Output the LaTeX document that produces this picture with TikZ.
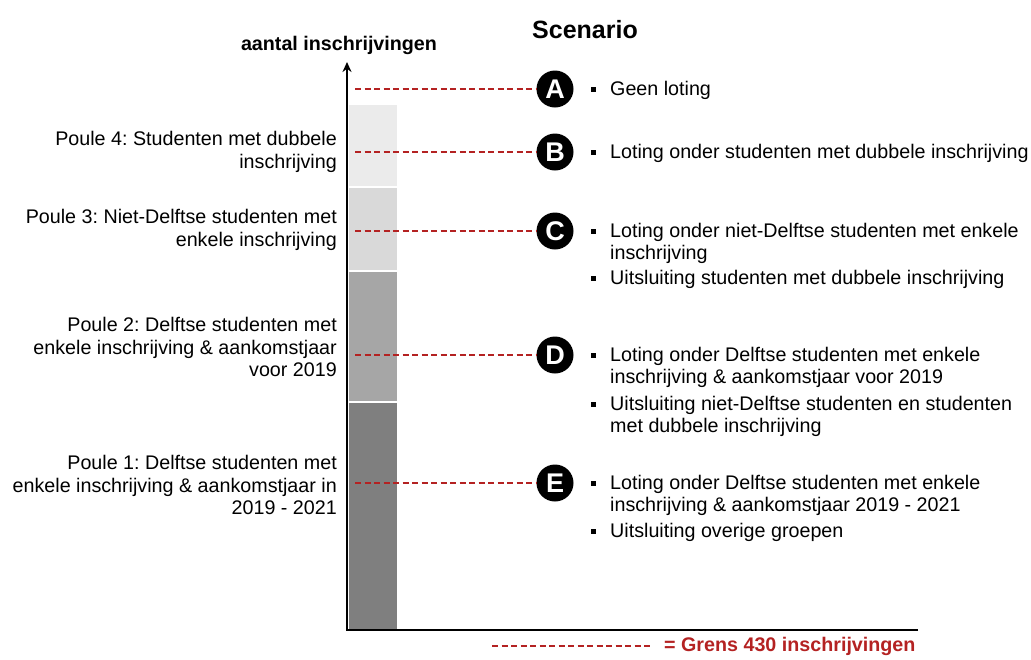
\documentclass[tikz,border=0pt]{standalone}
\usepackage{fontspec}
\setmainfont{Liberation Sans}
\usetikzlibrary{positioning, arrows.meta, calc}
\definecolor{grensrood}{HTML}{B42222}
\definecolor{poulevier}{HTML}{EBEBEB}
\definecolor{pouledrie}{HTML}{D9D9D9}
\definecolor{pouletwee}{HTML}{A6A6A6}
\definecolor{pouleeen}{HTML}{7F7F7F}
\frenchspacing

\begin{document}
\begin{tikzpicture}[x=1pt,y=-1pt,
        every node/.style={font=\fontsize{19.7}{22.5}\selectfont, inner sep=0pt},
        kop/.style={font=\fontsize{19.7}{22.5}\selectfont\bfseries},
        letter/.style={circle, fill=black, minimum size=37pt, text=white,
            font=\fontsize{27}{27}\selectfont\bfseries},
        grens/.style={draw=grensrood, line width=1.2pt, dash pattern=on 6pt off 3.5pt},
        blok/.style={rectangle, fill=black, minimum size=5pt},
        poule/.style={anchor=east, align=right},
        item/.style={anchor=north west, align=left,
            font=\fontsize{19.7}{22}\selectfont}]
        \useasboundingbox (0,0) rectangle (1031,659);

        \fill[poulevier] (349,105) rectangle (397,186);
        \fill[pouledrie] (349,188) rectangle (397,270);
        \fill[pouletwee] (349,272) rectangle (397,401);
        \fill[pouleeen] (349,403) rectangle (397,630);

        \coordinate (oorsprong) at (347,630);
        \coordinate (xeind) at (918,630);
        \coordinate (ytop) at (347,62);
        \draw[line width=2.2pt, -{Stealth[length=10pt,width=9pt]}]
            (xeind) -- (oorsprong) -- (ytop);

        \node[kop] (yas) at (339,45) {aantal inschrijvingen};
        \node[font=\fontsize{25}{25}\selectfont\bfseries] (scenario) at (585,30) {Scenario};

        \node[poule] (p4) at (337,152) {Poule 4: Studenten met dubbele\\inschrijving};
        \node[poule] (p3) at (337,230) {Poule 3: Niet-Delftse studenten met\\enkele inschrijving};
        \node[poule] (p2) at (337,347) {Poule 2: Delftse studenten met\\enkele inschrijving \& aankomstjaar\\voor 2019};
        \node[poule] (p1) at (337,485) {Poule 1: Delftse studenten met\\enkele inschrijving \& aankomstjaar in\\2019 - 2021};

        \coordinate (gA) at (355,89);
        \coordinate (gB) at (355,152);
        \coordinate (gC) at (355,231);
        \coordinate (gD) at (355,355);
        \coordinate (gE) at (355,483);
        \node[letter] (A) at (555,89) {A};
        \node[letter] (B) at (555,152) {B};
        \node[letter] (C) at (555,231) {C};
        \node[letter] (D) at (555,355) {D};
        \node[letter] (E) at (555,483) {E};
        \draw[grens] (gA) -- (A);
        \draw[grens] (gB) -- (B);
        \draw[grens] (gC) -- (C);
        \draw[grens] (gD) -- (D);
        \draw[grens] (gE) -- (E);

        \node[blok] (bA) at (593,89) {};
        \node[blok] (bB) at (593,152) {};
        \node[blok] (bC1) at (593,231) {};
        \node[blok] (bC2) at (593,278) {};
        \node[blok] (bD1) at (593,355) {};
        \node[blok] (bD2) at (593,404) {};
        \node[blok] (bE1) at (593,483) {};
        \node[blok] (bE2) at (593,531) {};

        \node[item] (tA) at (610,81.5) {Geen loting};
        \node[item] (tB) at (610,144.5) {Loting onder studenten met dubbele inschrijving};
        \node[item] (tC1) at (610,223.5) {Loting onder niet-Delftse studenten met enkele\\inschrijving};
        \node[item] (tC2) at (610,270.5) {Uitsluiting studenten met dubbele inschrijving};
        \node[item] (tD1) at (610,347.5) {Loting onder Delftse studenten met enkele\\inschrijving \& aankomstjaar voor 2019};
        \node[item] (tD2) at (610,396.5) {Uitsluiting niet-Delftse studenten en studenten\\met dubbele inschrijving};
        \node[item] (tE1) at (610,475.5) {Loting onder Delftse studenten met enkele\\inschrijving \& aankomstjaar 2019 - 2021};
        \node[item] (tE2) at (610,523.5) {Uitsluiting overige groepen};

        \coordinate (lg1) at (492,646);
        \coordinate (lg2) at (650,646);
        \node[kop, anchor=west, text=grensrood] (legenda) at (664,646) {= Grens 430 inschrijvingen};
        \draw[grens] (lg1) -- (lg2);
\end{tikzpicture}
\end{document}
